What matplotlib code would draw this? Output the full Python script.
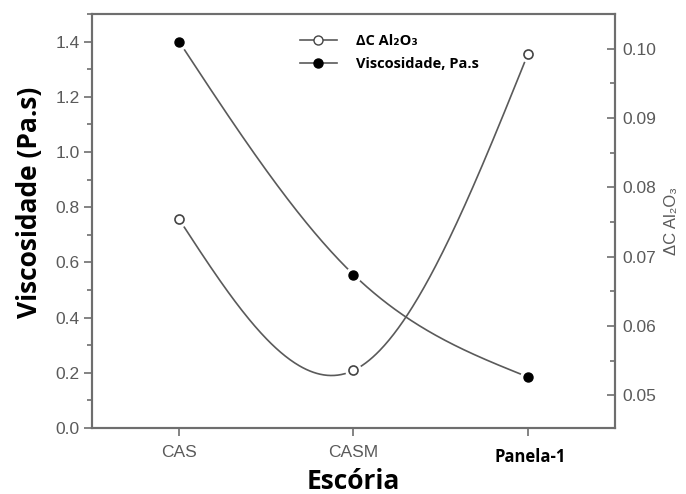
import numpy as np
import matplotlib
matplotlib.use("Agg")
import matplotlib.pyplot as plt
from matplotlib.ticker import MultipleLocator, FormatStrFormatter
from matplotlib.lines import Line2D

# data
escoria = ["CAS", "CASM", "Panela-1"]
viscosidade = [1.40, 0.556, 0.185]   # Pa.s, left axis
delta_al2o3 = [0.0754, 0.0536, 0.0992]  # right axis


def natural_spline(x, y, n=300):
    # natural cubic spline through the points (smooth connecting line)
    x = np.asarray(x, float)
    y = np.asarray(y, float)
    h = np.diff(x)
    m = len(x)
    M = np.zeros(m)
    if m > 2:
        A = np.zeros((m - 2, m - 2))
        r = np.zeros(m - 2)
        for i in range(1, m - 1):
            A[i - 1, i - 1] = 2 * (h[i - 1] + h[i])
            if i > 1:
                A[i - 1, i - 2] = h[i - 1]
            if i < m - 2:
                A[i - 1, i] = h[i]
            r[i - 1] = 6 * ((y[i + 1] - y[i]) / h[i] - (y[i] - y[i - 1]) / h[i - 1])
        M[1:-1] = np.linalg.solve(A, r)
    xs = np.linspace(x[0], x[-1], n)
    ys = np.zeros(n)
    for k, t in enumerate(xs):
        i = min(np.searchsorted(x, t, side="right") - 1, m - 2)
        a = x[i + 1] - t
        b = t - x[i]
        ys[k] = (M[i] * a**3 + M[i + 1] * b**3) / (6 * h[i]) \
            + (y[i] / h[i] - M[i] * h[i] / 6) * a \
            + (y[i + 1] / h[i] - M[i + 1] * h[i] / 6) * b
    return xs, ys


line_c = "#5a5a5a"
spine_c = "#6e6e6e"
text_c = "#5a5a5a"
bold_font = ["Open Sans", "DejaVu Sans"]
tick_family = ["Liberation Sans", "DejaVu Sans"]

fig = plt.figure(figsize=(6.86, 4.94), dpi=100)
ax = fig.add_axes([0.134, 0.1336, 0.7625, 0.838])
ax2 = ax.twinx()

xpos = np.arange(len(escoria))

# viscosity (filled markers, left axis)
xs, ys = natural_spline(xpos, viscosidade)
ax.plot(xs, ys, color=line_c, lw=1.2, zorder=2)
ax.plot(xpos, viscosidade, "o", ms=11, color="white", zorder=3)
ax.plot(xpos, viscosidade, "o", ms=6.5, mfc="black", mec="black", zorder=4)

# delta Al2O3 (open markers, right axis)
xs, ys = natural_spline(xpos, delta_al2o3)
ax2.plot(xs, ys, color=line_c, lw=1.2, zorder=2)
ax2.plot(xpos, delta_al2o3, "o", ms=11, color="white", zorder=3)
ax2.plot(xpos, delta_al2o3, "o", ms=6.5, mfc="white", mec="#444444", mew=1.2, zorder=4)

ax.set_xlim(-0.5, 2.5)
ax.set_ylim(0, 1.5)
ax2.set_ylim(0.0453, 0.105)

ax.set_xticks(xpos)
ax.set_xticklabels(["CAS", "CASM", ""])
ax.yaxis.set_major_locator(MultipleLocator(0.2))
ax.yaxis.set_minor_locator(MultipleLocator(0.1))
ax.yaxis.set_major_formatter(FormatStrFormatter("%.1f"))
ax2.yaxis.set_major_locator(MultipleLocator(0.01))
ax2.yaxis.set_minor_locator(MultipleLocator(0.005))
ax2.yaxis.set_major_formatter(FormatStrFormatter("%.2f"))

for lab in ax.get_yticklabels() + ax.get_xticklabels() + ax2.get_yticklabels():
    lab.set_fontfamily(tick_family)
    lab.set_fontsize(12.5)
    lab.set_color(text_c)

ax.tick_params(axis="y", which="major", direction="out", length=6, width=1.2, color=spine_c, pad=3)
ax.tick_params(axis="y", which="minor", direction="out", length=3.5, width=1.2, color=spine_c)
ax.tick_params(axis="x", which="major", direction="out", length=6, width=1.2, color=spine_c, pad=6)
ax2.tick_params(axis="y", which="major", direction="in", length=6, width=1.2, color=spine_c, pad=5)
ax2.tick_params(axis="y", which="minor", direction="in", length=3.5, width=1.2, color=spine_c)

for a in (ax, ax2):
    for s in a.spines.values():
        s.set_color(spine_c)
        s.set_linewidth(1.5)

# Panela-1 label is set in a different (bold) style in the original
ax.annotate("Panela-1", xy=(2, 0), xycoords=ax.get_xaxis_transform(),
            xytext=(2, -21), textcoords="offset points", ha="center", va="center",
            fontsize=12, fontweight="bold", family=bold_font, color="black")

ax.set_ylabel("Viscosidade (Pa.s)", fontsize=19, fontweight="bold",
              family=bold_font, color="black")
ax.yaxis.set_label_coords(-0.094, 0.545)
ax.set_xlabel("Escória", fontsize=19, fontweight="bold",
              family=bold_font, color="black", labelpad=6)
ax2.set_ylabel("ΔC Al₂O₃", fontsize=12, family=tick_family,
               color=text_c, rotation=90, labelpad=6)

handles = [
    Line2D([], [], color=line_c, lw=1.2, marker="o", ms=6.5, mfc="white", mec="#444444"),
    Line2D([], [], color=line_c, lw=1.2, marker="o", ms=6.5, mfc="black", mec="black"),
]
fig.legend(handles, ["ΔC Al₂O₃", "Viscosidade, Pa.s"], loc="upper left",
           bbox_to_anchor=(0.418, 0.958), frameon=False, handlelength=2.55,
           handletextpad=1.3, labelspacing=0.6,
           prop={"family": bold_font, "weight": "bold", "size": 10.5})

fig.savefig("out.png", dpi=100)
